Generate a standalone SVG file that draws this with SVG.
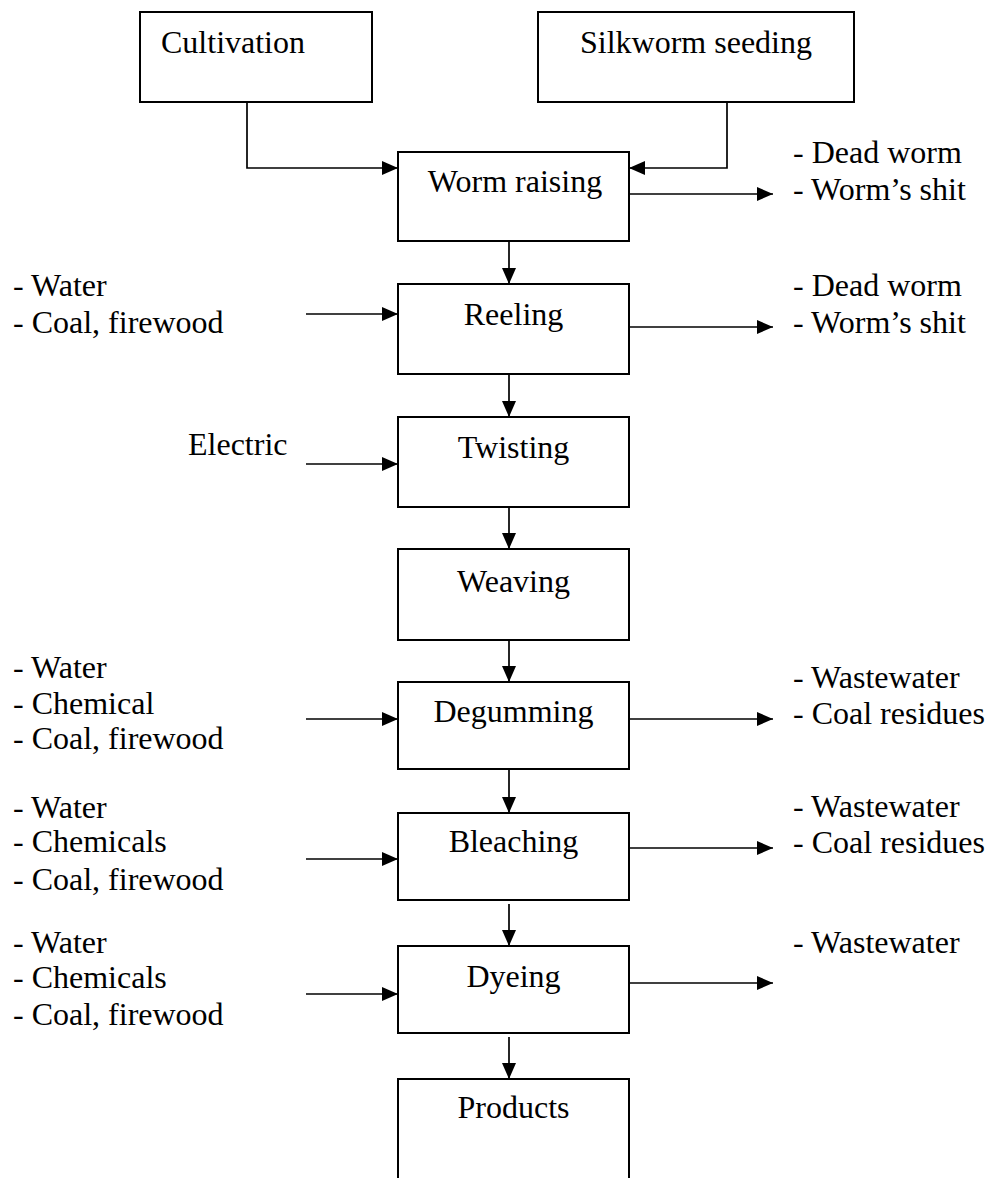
<svg xmlns="http://www.w3.org/2000/svg" width="989" height="1178" viewBox="0 0 989 1178">
<style>
text{font-family:"Liberation Serif","Times New Roman",serif;font-size:32px;fill:#000}
.box{fill:#fff;stroke:#000;stroke-width:2}
.c{text-anchor:middle}
.ln{fill:none;stroke:#000;stroke-width:1.7}
</style>
<defs>
<marker id="ah" markerUnits="userSpaceOnUse" markerWidth="16" markerHeight="14" refX="16" refY="7" orient="auto">
<path d="M0,0 L16,7 L0,14 z" fill="#000"/>
</marker>
</defs>
<rect width="989" height="1178" fill="#fff"/>
<g id="connectors">
<path class="ln" d="M247,102 V168 H398" marker-end="url(#ah)"/>
<path class="ln" d="M727,102 V168 H629" marker-end="url(#ah)"/>
<path class="ln" d="M629,194 H773" marker-end="url(#ah)"/>
<path class="ln" d="M509,241 V284" marker-end="url(#ah)"/>
<path class="ln" d="M306,314 H398" marker-end="url(#ah)"/>
<path class="ln" d="M629,327 H773" marker-end="url(#ah)"/>
<path class="ln" d="M509,374 V417" marker-end="url(#ah)"/>
<path class="ln" d="M306,464 H398" marker-end="url(#ah)"/>
<path class="ln" d="M509,507 V549" marker-end="url(#ah)"/>
<path class="ln" d="M509,640 V682" marker-end="url(#ah)"/>
<path class="ln" d="M306,719 H398" marker-end="url(#ah)"/>
<path class="ln" d="M629,719 H773" marker-end="url(#ah)"/>
<path class="ln" d="M509,769 V813" marker-end="url(#ah)"/>
<path class="ln" d="M306,859 H398" marker-end="url(#ah)"/>
<path class="ln" d="M629,848 H773" marker-end="url(#ah)"/>
<path class="ln" d="M509,904 V946" marker-end="url(#ah)"/>
<path class="ln" d="M306,994 H398" marker-end="url(#ah)"/>
<path class="ln" d="M629,983 H773" marker-end="url(#ah)"/>
<path class="ln" d="M509,1037 V1079" marker-end="url(#ah)"/>
</g>
<g id="cultivation"><rect class="box" x="140" y="12" width="232" height="90"/><text x="161" y="53">Cultivation</text></g>
<g id="silkworm-seeding"><rect class="box" x="538" y="12" width="316" height="90"/><text class="c" x="696" y="53">Silkworm seeding</text></g>
<g id="worm-raising"><rect class="box" x="398" y="152" width="231" height="89"/><text class="c" x="515" y="192">Worm raising</text></g>
<g id="reeling"><rect class="box" x="398" y="284" width="231" height="90"/><text class="c" x="513.5" y="325">Reeling</text></g>
<g id="twisting"><rect class="box" x="398" y="417" width="231" height="90"/><text class="c" x="513.5" y="458">Twisting</text></g>
<g id="weaving"><rect class="box" x="398" y="549" width="231" height="91"/><text class="c" x="513.5" y="592">Weaving</text></g>
<g id="degumming"><rect class="box" x="398" y="682" width="231" height="87"/><text class="c" x="513.5" y="722">Degumming</text></g>
<g id="bleaching"><rect class="box" x="398" y="813" width="231" height="87"/><text class="c" x="513.5" y="852">Bleaching</text></g>
<g id="dyeing"><rect class="box" x="398" y="946" width="231" height="87"/><text class="c" x="513.5" y="987">Dyeing</text></g>
<g id="products"><rect class="box" x="398" y="1079" width="231" height="120"/><text class="c" x="513.5" y="1118">Products</text></g>
<g id="labels">
<text x="793" y="163">- Dead worm</text>
<text x="793" y="200">- Worm’s shit</text>
<text x="13" y="296">- Water</text>
<text x="13" y="333">- Coal, firewood</text>
<text x="793" y="296">- Dead worm</text>
<text x="793" y="333">- Worm’s shit</text>
<text x="188" y="455">Electric</text>
<text x="13" y="678">- Water</text>
<text x="13" y="714">- Chemical</text>
<text x="13" y="749">- Coal, firewood</text>
<text x="793" y="688">- Wastewater</text>
<text x="793" y="724">- Coal residues</text>
<text x="13" y="818">- Water</text>
<text x="13" y="852">- Chemicals</text>
<text x="13" y="890">- Coal, firewood</text>
<text x="793" y="817">- Wastewater</text>
<text x="793" y="853">- Coal residues</text>
<text x="13" y="953">- Water</text>
<text x="13" y="988">- Chemicals</text>
<text x="13" y="1025">- Coal, firewood</text>
<text x="793" y="953">- Wastewater</text>
</g>
</svg>
